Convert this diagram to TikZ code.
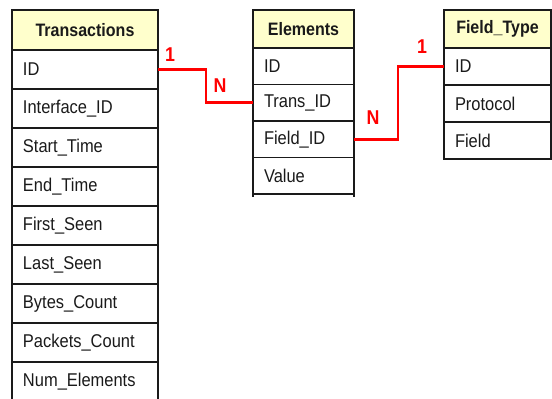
\documentclass[tikz,border=0pt]{standalone}
\usepackage{fontspec}
\setmainfont{Liberation Sans}[FakeStretch=0.89]
\definecolor{hdr}{HTML}{FFFFCC}
\definecolor{relred}{HTML}{FF0000}
\definecolor{ink}{HTML}{1A1A1A}
\begin{document}
\begin{tikzpicture}[x=1pt,y=-1pt,
  cell/.style={draw=ink, line width=1.3pt, anchor=north west, inner xsep=11pt, inner ysep=0pt,
    outer sep=0pt, align=left, text=ink, font=\fontsize{18.5}{20}\selectfont},
  head/.style={cell, fill=hdr, align=center, inner xsep=0pt, font=\bfseries\fontsize{18}{20}\selectfont},
  rel/.style={draw=relred, line width=2.6pt},
  card/.style={text=relred, inner sep=0pt, font=\bfseries\fontsize{20}{22}\selectfont}]
\useasboundingbox (0,0) rectangle (552,399);
% Transactions
\node[head, text width=146pt, minimum width=146pt, minimum height=40pt] (tHead) at (12,10) {Transactions};
\foreach \t/\n [count=\i] in {ID/tID, Interface\_ID/tIface, Start\_Time/tStart, End\_Time/tEnd,
  First\_Seen/tFirst, Last\_Seen/tLast, Bytes\_Count/tBytes, Packets\_Count/tPackets, Num\_Elements/tNum}
  \node[cell, text width=124pt, minimum width=146pt, minimum height=39pt] (\n) at (12,{50+39*(\i-1)}) {\t};
% Elements
\node[head, text width=101pt, minimum width=101pt, minimum height=38pt] (eHead) at (253,10) {Elements};
\foreach \t/\n [count=\i] in {ID/eID, Trans\_ID/eTrans, Field\_ID/eField, Value/eVal}
  \node[cell, text width=79pt, minimum width=101pt, minimum height=36.5pt] (\n) at (253,{48+36.5*(\i-1)}) {\t};
\draw[ink, line width=1.3pt] (eVal.south west) -- ++(0,3);
\draw[ink, line width=1.3pt] (eVal.south east) -- ++(0,3);
% Field_Type
\node[head, text width=107pt, minimum width=107pt, minimum height=38pt] (fHead) at (444,10) {Field\_Type};
\foreach \t/\n [count=\i] in {ID/fID, Protocol/fProto, Field/fField}
  \node[cell, text width=85pt, minimum width=107pt, minimum height=37pt] (\n) at (444,{48+37*(\i-1)}) {\t};
% Relations
\draw[rel] (tID.east) -- ++(48,0) |- (eTrans.west);
\draw[rel] (eField.east) -- ++(44,0) |- (fID.west);
\node[card] (c1) at (170,55) {1};
\node[card] (c2) at (220,86) {N};
\node[card] (c3) at (373,118) {N};
\node[card] (c4) at (422,47) {1};
\end{tikzpicture}
\end{document}
